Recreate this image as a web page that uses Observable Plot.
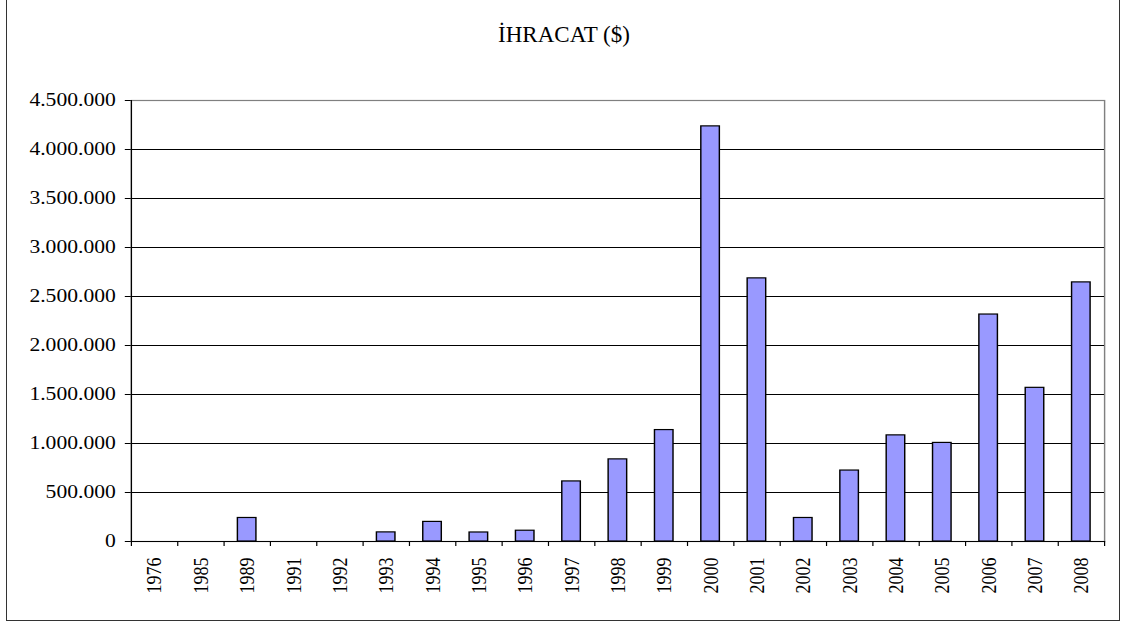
<!DOCTYPE html>
<html>
<head>
<meta charset="utf-8">
<script src="https://cdn.jsdelivr.net/npm/d3@7"></script>
<script src="https://cdn.jsdelivr.net/npm/@observablehq/plot@0.6"></script>
<style>
  html, body { margin: 0; padding: 0; background: #fff; }
  #root { position: relative; width: 1123px; height: 623px; overflow: hidden; background: #fff; }
  #frame { position: absolute; left: 6px; top: -10px; width: 1114px; height: 631px; border: 1.5px solid #333; box-sizing: border-box; }
  #title { position: absolute; left: 0; width: 1128px; top: 23px; text-align: center; font-family: "Liberation Serif", "Times New Roman", serif; font-size: 23px; line-height: 23px; color: #000; }
  #chart { position: absolute; left: 0; top: 0; transform: scaleX(1.2); transform-origin: 0 0; }
</style>
</head>
<body>
<div id="root">
  <div id="frame"></div>
  <div id="title">İHRACAT ($)</div>
  <div id="chart"></div>
</div>
<script>
const years = ["1976","1985","1989","1991","1992","1993","1994","1995","1996","1997","1998","1999","2000","2001","2002","2003","2004","2005","2006","2007","2008"];
const exports = [0, 0, 240000, 0, 0, 93000, 200000, 92000, 110000, 613000, 838000, 1137000, 4236000, 2685000, 240000, 724000, 1083000, 1006000, 2316000, 1568000, 2644000];
const yTicks = [0, 500000, 1000000, 1500000, 2000000, 2500000, 3000000, 3500000, 4000000, 4500000];
const title = "İHRACAT ($)";

const data = years.map((y, i) => ({year: y, value: exports[i]}));
const locale = d3.formatLocale({decimal: ",", thousands: ".", grouping: [3], currency: ["", "$"]});
const fmt = locale.format(",d");

const W = 936, H = 623;
const mL = 109, mR = 16, mT = 100, mB = 82;
const step = (W - mL - mR) / years.length;

const chart = Plot.plot({
  width: W,
  height: H,
  marginLeft: mL,
  marginRight: mR,
  marginTop: mT,
  marginBottom: mB,
  style: {fontFamily: "'Liberation Serif', 'Times New Roman', serif", fontSize: "18px", color: "#000", background: "transparent"},
  x: {type: "band", domain: years, paddingInner: 0.6, paddingOuter: 0.3, round: false, label: null},
  y: {domain: [0, 4500000], label: null},
  marks: [
    Plot.frame({stroke: "#808080", strokeWidth: 1.2}),
    Plot.ruleY(yTicks.filter(v => v > 0 && v < 4500000), {stroke: "#000", strokeWidth: 1}),
    Plot.barY(data, {x: "year", y: "value", fill: "#9999FF", stroke: "#000", strokeWidth: 1.2}),
    Plot.ruleY([0], {stroke: "#000", strokeWidth: 1.2}),
    Plot.ruleX([years[0]], {x: d => d, dx: -step / 2, stroke: "#000", strokeWidth: 1}),
    Plot.axisY({ticks: yTicks, tickSize: 5, tickPadding: 8, tickFormat: fmt, label: null, fontSize: 18}),
    Plot.axisX({ticks: years, tickSize: 5, tickFormat: () => "", dx: -step / 2, label: null}),
    Plot.axisX({ticks: [years[years.length - 1]], tickSize: 5, tickFormat: () => "", dx: step / 2, label: null}),
    Plot.axisX({ticks: years, tickSize: 0, tickPadding: 16, tickRotate: -90, label: null, fontSize: 18})
  ]
});
document.getElementById("chart").appendChild(chart);
</script>
</body>
</html>
